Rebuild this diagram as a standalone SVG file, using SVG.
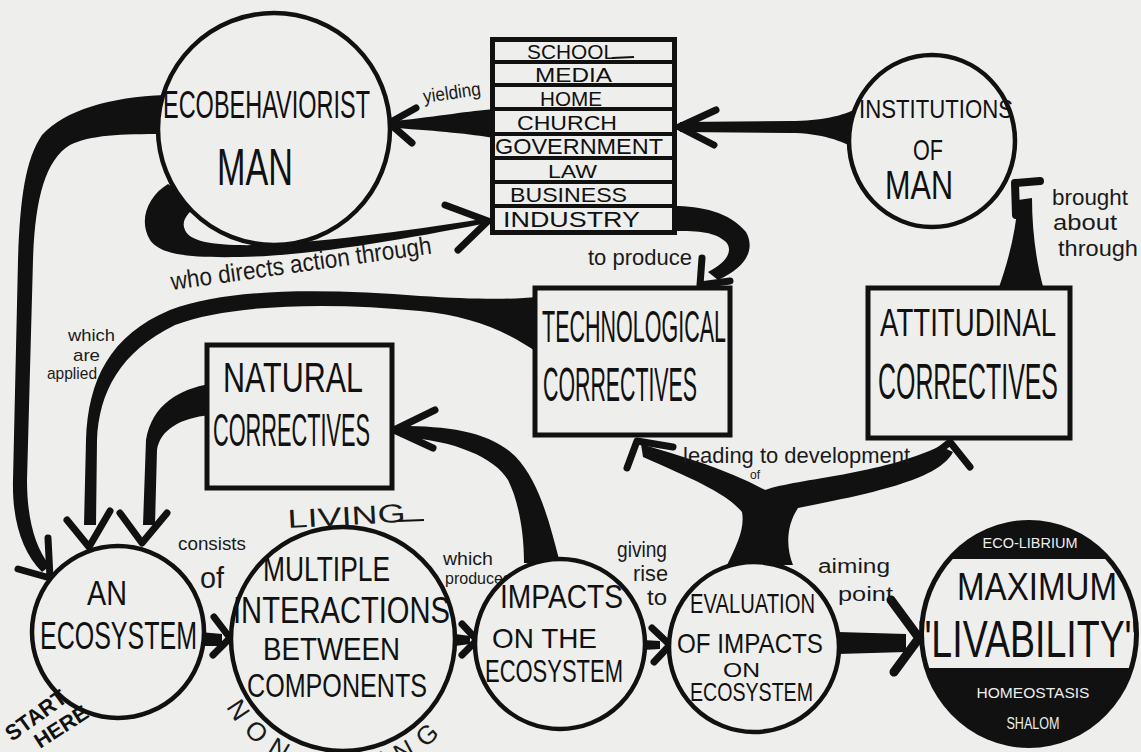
<svg xmlns="http://www.w3.org/2000/svg" width="1141" height="752" viewBox="0 0 1141 752">
<style>
.bg{fill:#eeeeec}
.ring{fill:#eeeeec;stroke:#111;stroke-width:4.5}
.box{fill:#eeeeec;stroke:#111;stroke-width:5}
.div{stroke:#111;stroke-width:4}
.cap{font-family:"Liberation Sans",Arial,sans-serif;fill:#111}
.hand{font-family:"Liberation Sans",Arial,sans-serif;fill:#1a1a1a}
.band{fill:#111}
.head{fill:none;stroke:#111;stroke-width:7;stroke-linecap:round;stroke-linejoin:round}
.white{fill:#eeeeec}
</style>
<defs>
<clipPath id="bandclip"><rect x="900" y="559" width="260" height="109"/></clipPath>
<path id="nonarc" d="M 226 707 A 135 135 0 0 0 447 727"/>
</defs>
<rect class="bg" x="0" y="0" width="1141" height="752"/>

<g id="connectors">
  <!-- Institutions of Man -> stack -->
  <path class="band" d="M 680 122 L 790 121 C 822 121 842 116 858 108 L 858 150 C 842 141 822 133 790 133 L 680 132 Z"/>
  <polyline class="head" points="716,110 679,127 714,145"/>
  <!-- stack -> Ecobehaviorist (yielding) -->
  <path class="band" d="M 494 109 C 470 111 440 116 395 121 L 395 128 C 440 131 470 134 494 138 Z"/>
  <polyline class="head" points="416,108 389,123 412,143"/>
  <text class="hand" x="424" y="103" font-size="19" textLength="58" lengthAdjust="spacingAndGlyphs" transform="rotate(-8 424 103)">yielding</text>
  <!-- Ecobehaviorist -> Industry (who directs action through) -->
  <path class="band" d="M 168 184 C 148 196 138 220 150 240 C 160 254 185 258 240 257 C 310 256 400 240 482 224 L 482 219 C 400 232 320 242 260 245 C 215 246 190 242 185 230 C 180 220 190 210 200 205 Z"/>
  <polyline class="head" points="445,205 488,221 458,250"/>
  <text class="hand" x="172" y="290" font-size="25" textLength="263" lengthAdjust="spacingAndGlyphs" transform="rotate(-8 172 290)">who directs action through</text>
  <!-- Ecobehaviorist -> An Ecosystem (left arc) -->
  <path class="band" d="M 165 95 C 110 97 65 110 42 135 C 25 160 20 200 18 260 L 13 480 C 12 520 22 552 42 572 L 50 566 C 34 546 27 516 27 480 L 33 260 C 35 200 45 160 70 145 C 90 135 120 134 165 134 Z"/>
  <polyline class="head" points="18,569 50,578 48,538"/>
  <!-- Industry -> Technological (to produce) -->
  <path class="band" d="M 674 206 C 700 206 730 212 746 232 C 756 250 745 268 718 280 L 708 272 C 728 262 733 250 726 242 C 715 232 700 231 674 231 Z"/>
  <polyline class="head" points="702,258 700,285 730,281"/>
  <text class="hand" x="588" y="265" font-size="22" textLength="104" lengthAdjust="spacingAndGlyphs">to produce</text>
  <!-- Technological -> An Ecosystem (which are applied) -->
  <path class="band" d="M 538 297 C 505 300 470 299 420 296 C 330 289 230 287 170 310 C 110 335 88 380 86 440 L 84 525 L 96 525 L 97 440 C 99 392 120 352 175 325 C 230 304 330 302 420 311 C 470 316 505 330 538 353 Z"/>
  <polyline class="head" points="67,520 89,547 110,511"/>
  <text class="hand" x="68" y="341" font-size="17" textLength="47" lengthAdjust="spacingAndGlyphs">which</text>
  <text class="hand" x="73" y="361" font-size="17" textLength="27" lengthAdjust="spacingAndGlyphs">are</text>
  <text class="hand" x="47" y="379" font-size="17" textLength="50" lengthAdjust="spacingAndGlyphs">applied</text>
  <!-- Natural -> An Ecosystem -->
  <path class="band" d="M 210 384 C 180 389 152 404 146 440 L 143 525 L 155 525 L 157 450 C 160 430 180 418 210 415 Z"/>
  <polyline class="head" points="120,513 142,543 167,513"/>
  <!-- Impacts -> Natural -->
  <path class="band" d="M 400 426 C 450 426 490 432 515 456 C 540 482 550 525 560 563 L 524 563 C 524 530 518 500 508 480 C 495 458 455 440 400 437 Z"/>
  <polyline class="head" points="435,410 394,430 433,448"/>
  <!-- Evaluation -> Technological / Attitudinal -->
  <path class="band" d="M 727 565 C 737 545 745 528 742 512 C 725 492 690 478 643 457 L 641 444 C 680 456 725 468 765 490 C 800 478 880 475 940 446 L 953 452 C 940 478 880 492 798 508 C 786 526 786 548 793 565 Z"/>
  <polyline class="head" points="673,447 637,441 627,468"/>
  <polyline class="head" points="927,460 950,442 970,467"/>
  <text class="hand" x="683" y="463" font-size="22" textLength="227" lengthAdjust="spacingAndGlyphs">leading to development</text>
  <text class="hand" x="750" y="479" font-size="12">of</text>
  <!-- Attitudinal -> Institutions of Man -->
  <path class="band" d="M 998 290 C 1008 262 1016 232 1018 200 L 1032 198 C 1032 230 1036 262 1044 290 Z"/>
  <polyline class="head" style="stroke-width:8" points="1040,181 1015,183 1016,215"/>
  <text class="hand" x="1052" y="205" font-size="22" textLength="76" lengthAdjust="spacingAndGlyphs">brought</text>
  <text class="hand" x="1053" y="230" font-size="22" textLength="64" lengthAdjust="spacingAndGlyphs">about</text>
  <text class="hand" x="1058" y="256" font-size="22" textLength="80" lengthAdjust="spacingAndGlyphs">through</text>
  <!-- Ecosystem -> Multiple -->
  <path class="band" d="M 200 632 L 222 634 L 222 646 L 200 646 Z"/>
  <polyline class="head" points="214,617 230,638 213,655"/>
  <text class="hand" x="178" y="550" font-size="18" textLength="68" lengthAdjust="spacingAndGlyphs">consists</text>
  <text class="hand" x="200" y="588" font-size="30" textLength="24" lengthAdjust="spacingAndGlyphs">of</text>
  <!-- Multiple -> Impacts -->
  <path class="band" d="M 455 634 L 470 636 L 470 644 L 455 646 Z"/>
  <polyline class="head" points="462,624 477,640 462,655"/>
  <text class="hand" x="443" y="565" font-size="19" textLength="50" lengthAdjust="spacingAndGlyphs">which</text>
  <text class="hand" x="445" y="584" font-size="17" textLength="66" lengthAdjust="spacingAndGlyphs">produces</text>
  <!-- Impacts -> Evaluation -->
  <path class="band" d="M 643 640 L 660 641 L 660 649 L 643 650 Z"/>
  <polyline class="head" points="652,628 670,645 654,662"/>
  <text class="hand" x="617" y="557" font-size="22" textLength="50" lengthAdjust="spacingAndGlyphs">giving</text>
  <text class="hand" x="633" y="581" font-size="22" textLength="35" lengthAdjust="spacingAndGlyphs">rise</text>
  <text class="hand" x="647" y="605" font-size="22" textLength="20" lengthAdjust="spacingAndGlyphs">to</text>
  <!-- Evaluation -> Maximum Livability -->
  <path class="band" d="M 838 632 L 906 634 L 906 652 L 838 654 Z"/>
  <polyline class="head" style="stroke-width:9" points="891,600 919,638 894,672"/>
  <text class="hand" x="818" y="573" font-size="20" textLength="72" lengthAdjust="spacingAndGlyphs">aiming</text>
  <text class="hand" x="838" y="601" font-size="20" textLength="55" lengthAdjust="spacingAndGlyphs">point</text>
</g>

<g id="node-ecobehaviorist-man">
  <circle class="ring" cx="274" cy="129" r="116"/>
  <text class="cap" x="163" y="118" font-size="39" textLength="207" lengthAdjust="spacingAndGlyphs">ECOBEHAVIORIST</text>
  <text class="cap" x="217" y="185" font-size="52" textLength="76" lengthAdjust="spacingAndGlyphs">MAN</text>
</g>

<g id="node-institutions-list">
  <rect class="box" x="492.5" y="39.5" width="182" height="193"/>
  <line class="div" x1="492" y1="62" x2="675" y2="62"/>
  <line class="div" x1="492" y1="85" x2="675" y2="85"/>
  <line class="div" x1="492" y1="109" x2="675" y2="109"/>
  <line class="div" x1="492" y1="134" x2="675" y2="134"/>
  <line class="div" x1="492" y1="158" x2="675" y2="158"/>
  <line class="div" x1="492" y1="182" x2="675" y2="182"/>
  <line class="div" x1="492" y1="206" x2="675" y2="206"/>
  <text class="cap" x="527" y="59" font-size="21" textLength="88" lengthAdjust="spacingAndGlyphs">SCHOOL</text>
  <line x1="612" y1="58" x2="634" y2="57" stroke="#111" stroke-width="2"/>
  <text class="cap" x="535" y="82" font-size="21" textLength="77" lengthAdjust="spacingAndGlyphs">MEDIA</text>
  <text class="cap" x="540" y="106" font-size="21" textLength="62" lengthAdjust="spacingAndGlyphs">HOME</text>
  <text class="cap" x="517" y="130" font-size="21" textLength="100" lengthAdjust="spacingAndGlyphs">CHURCH</text>
  <text class="cap" x="495" y="154" font-size="22" textLength="168" lengthAdjust="spacingAndGlyphs">GOVERNMENT</text>
  <text class="cap" x="548" y="178" font-size="19" textLength="49" lengthAdjust="spacingAndGlyphs">LAW</text>
  <text class="cap" x="510" y="202" font-size="21" textLength="117" lengthAdjust="spacingAndGlyphs">BUSINESS</text>
  <text class="cap" x="503" y="227" font-size="22" textLength="137" lengthAdjust="spacingAndGlyphs">INDUSTRY</text>
</g>

<g id="node-institutions-of-man">
  <ellipse class="ring" cx="932" cy="141" rx="83" ry="86"/>
  <text class="cap" x="859" y="118" font-size="26" textLength="154" lengthAdjust="spacingAndGlyphs">INSTITUTIONS</text>
  <text class="cap" x="913" y="160" font-size="30" textLength="30" lengthAdjust="spacingAndGlyphs">OF</text>
  <text class="cap" x="885" y="199" font-size="41" textLength="68" lengthAdjust="spacingAndGlyphs">MAN</text>
</g>

<g id="node-technological-correctives">
  <rect class="box" x="535" y="288" width="195" height="147"/>
  <text class="cap" x="542" y="342" font-size="44" textLength="184" lengthAdjust="spacingAndGlyphs">TECHNOLOGICAL</text>
  <text class="cap" x="543" y="401" font-size="48" textLength="154" lengthAdjust="spacingAndGlyphs">CORRECTIVES</text>
</g>

<g id="node-attitudinal-correctives">
  <rect class="box" x="868" y="288" width="202" height="150"/>
  <text class="cap" x="880" y="336" font-size="38" textLength="176" lengthAdjust="spacingAndGlyphs">ATTITUDINAL</text>
  <text class="cap" x="878" y="399" font-size="50" textLength="180" lengthAdjust="spacingAndGlyphs">CORRECTIVES</text>
</g>

<g id="node-natural-correctives">
  <rect class="box" x="207" y="345" width="185" height="143"/>
  <text class="cap" x="223" y="392" font-size="42" textLength="140" lengthAdjust="spacingAndGlyphs">NATURAL</text>
  <text class="cap" x="213" y="446" font-size="47" textLength="157" lengthAdjust="spacingAndGlyphs">CORRECTIVES</text>
</g>

<g id="node-an-ecosystem">
  <circle class="ring" cx="118" cy="632" r="86"/>
  <text class="cap" x="87" y="605" font-size="35" textLength="40" lengthAdjust="spacingAndGlyphs">AN</text>
  <text class="cap" x="40" y="649" font-size="38" textLength="157" lengthAdjust="spacingAndGlyphs">ECOSYSTEM</text>
  <text class="cap" x="12" y="742" font-size="22" font-weight="bold" textLength="70" lengthAdjust="spacingAndGlyphs" transform="rotate(-36 12 742)">START</text>
  <text class="cap" x="40" y="749" font-size="21" font-weight="bold" textLength="60" lengthAdjust="spacingAndGlyphs" transform="rotate(-33 40 749)">HERE</text>
</g>

<g id="node-multiple-interactions">
  <circle class="ring" cx="343" cy="639" r="112"/>
  <text class="cap" x="263" y="581" font-size="35" textLength="127" lengthAdjust="spacingAndGlyphs">MULTIPLE</text>
  <text class="cap" x="233" y="623" font-size="36" textLength="217" lengthAdjust="spacingAndGlyphs">INTERACTIONS</text>
  <text class="cap" x="263" y="660" font-size="32" textLength="137" lengthAdjust="spacingAndGlyphs">BETWEEN</text>
  <text class="cap" x="247" y="697" font-size="34" textLength="180" lengthAdjust="spacingAndGlyphs">COMPONENTS</text>
  <text class="hand" x="288" y="528" font-size="26" textLength="118" lengthAdjust="spacingAndGlyphs" transform="rotate(-3 288 528)">LIVING</text>
  <line x1="398" y1="521" x2="424" y2="520" stroke="#111" stroke-width="2"/>
  <text class="hand" font-size="26"><textPath href="#nonarc" textLength="250" lengthAdjust="spacing">NON-LIVING</textPath></text>
</g>

<g id="node-impacts">
  <circle class="ring" cx="560" cy="644" r="85"/>
  <text class="cap" x="500" y="608" font-size="33" textLength="123" lengthAdjust="spacingAndGlyphs">IMPACTS</text>
  <text class="cap" x="492" y="648" font-size="28" textLength="105" lengthAdjust="spacingAndGlyphs">ON THE</text>
  <text class="cap" x="485" y="682" font-size="31" textLength="138" lengthAdjust="spacingAndGlyphs">ECOSYSTEM</text>
</g>

<g id="node-evaluation">
  <circle class="ring" cx="754" cy="647" r="85"/>
  <text class="cap" x="690" y="613" font-size="28" textLength="125" lengthAdjust="spacingAndGlyphs">EVALUATION</text>
  <text class="cap" x="677" y="653" font-size="28" textLength="146" lengthAdjust="spacingAndGlyphs">OF IMPACTS</text>
  <text class="cap" x="723" y="677" font-size="20" textLength="37" lengthAdjust="spacingAndGlyphs">ON</text>
  <text class="cap" x="690" y="701" font-size="26" textLength="123" lengthAdjust="spacingAndGlyphs">ECOSYSTEM</text>
</g>

<g id="node-maximum-livability">
  <ellipse cx="1029" cy="634" rx="110" ry="114" fill="#111"/>
  <ellipse cx="1029" cy="634" rx="105" ry="109" class="white" clip-path="url(#bandclip)"/>
  <text class="white" x="1030" y="548" font-family="Liberation Sans, Arial, sans-serif" font-size="15" text-anchor="middle" textLength="95" lengthAdjust="spacingAndGlyphs">ECO-LIBRIUM</text>
  <text class="cap" x="957" y="600" font-size="39" textLength="160" lengthAdjust="spacingAndGlyphs">MAXIMUM</text>
  <text class="cap" x="918" y="657" font-size="52" textLength="220" lengthAdjust="spacingAndGlyphs">"LIVABILITY"</text>
  <text class="white" x="1033" y="698" font-family="Liberation Sans, Arial, sans-serif" font-size="15" text-anchor="middle" textLength="113" lengthAdjust="spacingAndGlyphs">HOMEOSTASIS</text>
  <text class="white" x="1033" y="729" font-family="Liberation Sans, Arial, sans-serif" font-size="16" text-anchor="middle" textLength="53" lengthAdjust="spacingAndGlyphs">SHALOM</text>
</g>
</svg>
